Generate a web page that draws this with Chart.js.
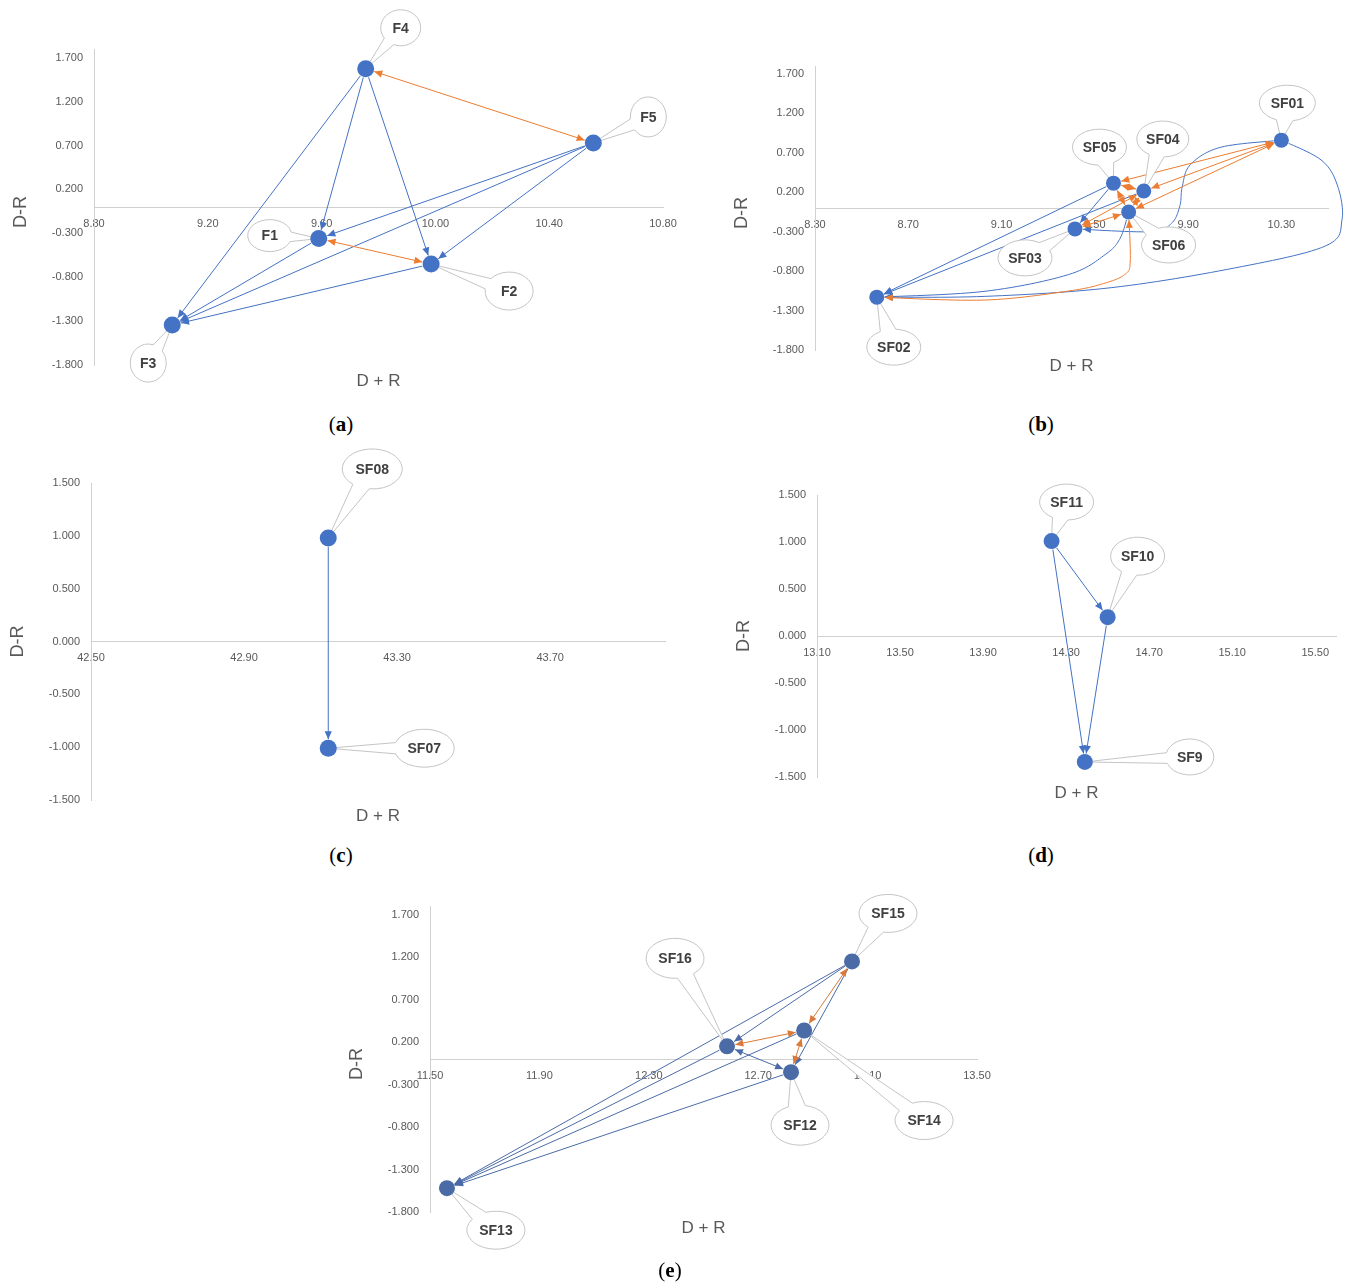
<!DOCTYPE html>
<html>
<head>
<meta charset="utf-8">
<script src="https://cdn.jsdelivr.net/npm/chart.js@4.4.0/dist/chart.umd.min.js"></script>
<style>
body { margin: 0; background: #fff; width: 1349px; height: 1284px; position: relative; overflow: hidden; }
canvas { position: absolute; }
.cap { position: absolute; font-family: 'Liberation Serif', 'DejaVu Serif', serif; font-size: 21px; color: #000; transform: translate(-50%, -50%); white-space: nowrap; }
</style>
</head>
<body>
<canvas id="chartA"></canvas>
<canvas id="chartB"></canvas>
<canvas id="chartC"></canvas>
<canvas id="chartD"></canvas>
<canvas id="chartE"></canvas>
<div class="cap" style="left:341px;top:424px">(<b>a</b>)</div>
<div class="cap" style="left:1041px;top:424px">(<b>b</b>)</div>
<div class="cap" style="left:341px;top:855px">(<b>c</b>)</div>
<div class="cap" style="left:1041px;top:855px">(<b>d</b>)</div>
<div class="cap" style="left:670px;top:1270px">(<b>e</b>)</div>
<script>
// (a) main factors
const aNames = ['F1', 'F2', 'F3', 'F4', 'F5'];
const aDplusR = [9.59, 9.985, 9.075, 9.755, 10.555];
const aDminusR = [-0.36, -0.65, -1.345, 1.575, 0.73];
const aXTicks = [8.8, 9.2, 9.6, 10.0, 10.4, 10.8];
const aYTicks = [-1.8, -1.3, -0.8, -0.3, 0.2, 0.7, 1.2, 1.7];
const aOneWay = [['F4', 'F3'], ['F4', 'F1'], ['F4', 'F2'], ['F5', 'F1'], ['F5', 'F3'], ['F5', 'F2'], ['F1', 'F3'], ['F2', 'F3']];
const aTwoWay = [['F4', 'F5'], ['F1', 'F2']];

// (b)
const bNames = ['SF01', 'SF02', 'SF03', 'SF04', 'SF05', 'SF06'];
const bDplusR = [10.30, 8.565, 9.415, 9.71, 9.58, 9.645];
const bDminusR = [0.86, -1.13, -0.265, 0.215, 0.315, -0.05];
const bXTicks = [8.3, 8.7, 9.1, 9.5, 9.9, 10.3];
const bYTicks = [-1.8, -1.3, -0.8, -0.3, 0.2, 0.7, 1.2, 1.7];
const bOneWay = [['SF05', 'SF02'], ['SF04', 'SF02'], ['SF05', 'SF03'], ['SF06', 'SF02'], ['SF01', 'SF03'], ['SF01', 'SF02']];
const bTwoWay = [['SF01', 'SF05'], ['SF01', 'SF04'], ['SF01', 'SF06'], ['SF05', 'SF04'], ['SF05', 'SF06'], ['SF06', 'SF04'], ['SF03', 'SF04'], ['SF03', 'SF06'], ['SF06', 'SF02']];

// (c)
const cNames = ['SF07', 'SF08'];
const cDplusR = [43.12, 43.12];
const cDminusR = [-1.01, 0.98];
const cXTicks = [42.5, 42.9, 43.3, 43.7];
const cYTicks = [-1.5, -1.0, -0.5, 0.0, 0.5, 1.0, 1.5];
const cOneWay = [['SF08', 'SF07']];

// (d)
const dNames = ['SF9', 'SF10', 'SF11'];
const dDplusR = [14.39, 14.50, 14.23];
const dDminusR = [-1.34, 0.20, 1.01];
const dXTicks = [13.1, 13.5, 13.9, 14.3, 14.7, 15.1, 15.5];
const dYTicks = [-1.5, -1.0, -0.5, 0.0, 0.5, 1.0, 1.5];
const dOneWay = [['SF11', 'SF10'], ['SF11', 'SF9'], ['SF10', 'SF9']];

// (e)
const eNames = ['SF12', 'SF13', 'SF14', 'SF15', 'SF16'];
const eDplusR = [12.82, 11.562, 12.868, 13.043, 12.586];
const eDminusR = [-0.155, -1.52, 0.335, 1.148, 0.149];
const eXTicks = [11.5, 11.9, 12.3, 12.7, 13.1, 13.5];
const eYTicks = [-1.8, -1.3, -0.8, -0.3, 0.2, 0.7, 1.2, 1.7];
const eOneWay = [['SF15', 'SF13'], ['SF15', 'SF16'], ['SF15', 'SF12'], ['SF14', 'SF13'], ['SF16', 'SF13'], ['SF12', 'SF13']];
const eTwoWayBlue = [['SF16', 'SF12']];
const eTwoWay = [['SF15', 'SF14'], ['SF16', 'SF14'], ['SF14', 'SF12']];

// curved connector bends for (b), in axis units
const bBends = {
    'SF06-SF02': [[9.609, -0.381], [9.545, -0.589], [9.386, -0.845], [9.025, -1.057]],
    'SF01-SF03': [[10.04, 0.77], [9.91, 0.55], [9.875, 0.27], [9.865, 0.03], [9.83, -0.19], [9.74, -0.30]],
    'SF01-SF02': [[10.47, 0.61], [10.54, 0.29], [10.56, -0.15], [10.49, -0.48], [10.10, -0.76], [9.57, -1.01], [9.03, -1.12]],
    'SF06=SF02': [[9.652, -0.672], [9.631, -0.837], [9.545, -0.951], [9.386, -1.053], [9.025, -1.167]]
};

const BLUE = '#4472C4';
const ORANGE = '#ED7D31';
const Y_AXIS_W = 60;
const TICK_FONT = { family: "'Liberation Sans', Arial, sans-serif", size: 11 };

function spline(pts, seg) {
    if (pts.length < 3) return pts;
    const out = [];
    for (let i = 0; i < pts.length - 1; i++) {
        const p0 = pts[Math.max(i - 1, 0)], p1 = pts[i], p2 = pts[i + 1], p3 = pts[Math.min(i + 2, pts.length - 1)];
        for (let t = 0; t < seg; t++) {
            const s = t / seg, s2 = s * s, s3 = s2 * s;
            const f = k => 0.5 * (2 * p1[k] + (-p0[k] + p2[k]) * s + (2 * p0[k] - 5 * p1[k] + 4 * p2[k] - p3[k]) * s2 + (-p0[k] + 3 * p1[k] - 3 * p2[k] + p3[k]) * s3);
            out.push([f(0), f(1)]);
        }
    }
    out.push(pts[pts.length - 1]);
    return out;
}

function cutStart(arr, r) {
    const a = arr[0];
    for (let i = 1; i < arr.length; i++) {
        const d = Math.hypot(arr[i][0] - a[0], arr[i][1] - a[1]);
        if (d >= r) {
            const b = arr[i - 1];
            const db = Math.hypot(b[0] - a[0], b[1] - a[1]);
            const t = (r - db) / (d - db);
            return [[b[0] + (arr[i][0] - b[0]) * t, b[1] + (arr[i][1] - b[1]) * t]].concat(arr.slice(i));
        }
    }
    return arr;
}

function arrowHead(ctx, pts, color) {
    const tip = pts[pts.length - 1];
    let k = pts.length - 2;
    while (k > 0 && Math.hypot(pts[k][0] - tip[0], pts[k][1] - tip[1]) < 6) k--;
    const ang = Math.atan2(tip[1] - pts[k][1], tip[0] - pts[k][0]);
    const L = 8, W = 3.6;
    const c = Math.cos(ang), s = Math.sin(ang);
    ctx.beginPath();
    ctx.moveTo(tip[0], tip[1]);
    ctx.lineTo(tip[0] - L * c + W * s, tip[1] - L * s - W * c);
    ctx.lineTo(tip[0] - L * c - W * s, tip[1] - L * s + W * c);
    ctx.closePath();
    ctx.fillStyle = color;
    ctx.fill();
}

function callout(ctx, px, py, cx, cy, rx, ry, text) {
    const th = Math.atan2((py - cy) / ry, (px - cx) / rx);
    const d = 0.3;
    ctx.beginPath();
    ctx.moveTo(px, py);
    ctx.lineTo(cx + rx * Math.cos(th + d), cy + ry * Math.sin(th + d));
    ctx.ellipse(cx, cy, rx, ry, 0, th + d, th - d + 2 * Math.PI);
    ctx.closePath();
    ctx.fillStyle = '#ffffff';
    ctx.fill();
    ctx.strokeStyle = '#c4c4c4';
    ctx.lineWidth = 1;
    ctx.stroke();
    ctx.fillStyle = '#404040';
    ctx.font = "bold 14px 'Liberation Sans', Arial, sans-serif";
    ctx.textAlign = 'center';
    ctx.textBaseline = 'middle';
    ctx.fillText(text, cx, cy + 1);
}

function makeOverlay(p) {
    return {
        id: 'overlay' + p.id,
        beforeDatasetsDraw(chart) {
            const ctx = chart.ctx, xs = chart.scales.x, ys = chart.scales.y;
            const at = n => {
                const i = p.names.indexOf(n);
                return [xs.getPixelForValue(p.xv[i]), ys.getPixelForValue(p.yv[i])];
            };
            const toPx = v => [xs.getPixelForValue(v[0]), ys.getPixelForValue(v[1])];
            ctx.save();
            const link = (a, b, color, both, bendKey) => {
                let pts = [at(a)].concat((p.bends && p.bends[bendKey]) ? p.bends[bendKey].map(toPx) : []).concat([at(b)]);
                pts = spline(pts, 14);
                pts = cutStart(pts, p.r + 0.5);
                pts = cutStart(pts.slice().reverse(), p.r + 0.5).reverse();
                ctx.beginPath();
                ctx.moveTo(pts[0][0], pts[0][1]);
                for (let i = 1; i < pts.length; i++) ctx.lineTo(pts[i][0], pts[i][1]);
                ctx.strokeStyle = color;
                ctx.lineWidth = 1;
                ctx.stroke();
                arrowHead(ctx, pts, color);
                if (both) arrowHead(ctx, pts.slice().reverse(), color);
            };
            (p.oneWay || []).forEach(l => link(l[0], l[1], p.blue, false, l[0] + '-' + l[1]));
            (p.twoWayBlue || []).forEach(l => link(l[0], l[1], p.blue, true, l[0] + '=' + l[1]));
            (p.twoWay || []).forEach(l => link(l[0], l[1], p.orange, true, l[0] + '=' + l[1]));
            p.names.forEach((n, i) => {
                const c = p.labels[i];
                const q = at(n);
                callout(ctx, q[0], q[1], q[0] + c[0], q[1] + c[1], c[2], c[3], n);
            });
            ctx.restore();
        },
        afterDraw(chart) {
            const ctx = chart.ctx, ca = chart.chartArea;
            ctx.save();
            ctx.fillStyle = '#595959';
            ctx.textAlign = 'center';
            ctx.textBaseline = 'middle';
            ctx.font = "17px 'Liberation Sans', Arial, sans-serif";
            ctx.fillText('D + R', (ca.left + ca.right) / 2, ca.bottom + 16);
            ctx.translate(ca.left - 73, (ca.top + ca.bottom) / 2 + p.titleDy);
            ctx.rotate(-Math.PI / 2);
            ctx.font = "18px 'Liberation Sans', Arial, sans-serif";
            ctx.fillText('D-R', 0, 0);
            ctx.restore();
        }
    };
}

const panels = [
    { id: 'A', canvas: 'chartA', box: [0, 0, 690, 405], area: [94, 49, 663, 365], xMin: 8.8, xMax: 10.8, yMin: -1.8, yMax: 1.8,
      names: aNames, xv: aDplusR, yv: aDminusR, xTicks: aXTicks, yTicks: aYTicks, oneWay: aOneWay, twoWay: aTwoWay,
      r: 8.5, blue: BLUE, orange: ORANGE, titleDy: 5,
      labels: [[-49, -3, 22, 16], [78, 27, 24, 19], [-24, 38, 18, 19], [35, -41, 20, 18], [55, -26, 18, 20]] },
    { id: 'B', canvas: 'chartB', box: [690, 45, 659, 360], area: [815, 66, 1328, 350], xMin: 8.3, xMax: 10.5, yMin: -1.8, yMax: 1.8,
      names: bNames, xv: bDplusR, yv: bDminusR, xTicks: bXTicks, yTicks: bYTicks, oneWay: bOneWay, twoWay: bTwoWay, bends: bBends,
      r: 7.5, blue: BLUE, orange: ORANGE, titleDy: 5,
      labels: [[6, -37, 28, 18], [17, 50, 27, 18], [-50, 29, 27, 18], [19, -52, 26, 18], [-14, -36, 27, 18], [40, 33, 27, 18]] },
    { id: 'C', canvas: 'chartC', box: [0, 440, 690, 400], area: [91, 483, 665, 800], xMin: 42.5, xMax: 44.0, yMin: -1.5, yMax: 1.5,
      names: cNames, xv: cDplusR, yv: cDminusR, xTicks: cXTicks, yTicks: cYTicks, oneWay: cOneWay,
      r: 8.5, blue: BLUE, orange: ORANGE, titleDy: 0,
      labels: [[96, 0, 30, 19], [44, -69, 30, 20]] },
    { id: 'D', canvas: 'chartD', box: [690, 465, 659, 360], area: [817, 495, 1336, 777], xMin: 13.1, xMax: 15.6, yMin: -1.5, yMax: 1.5,
      names: dNames, xv: dDplusR, yv: dDminusR, xTicks: dXTicks, yTicks: dYTicks, oneWay: dOneWay,
      r: 8, blue: BLUE, orange: ORANGE, titleDy: 0,
      labels: [[105, -5, 24, 18], [30, -61, 27, 19], [15, -39, 27, 18]] },
    { id: 'E', canvas: 'chartE', box: [330, 870, 690, 390], area: [430, 906, 977, 1212], xMin: 11.5, xMax: 13.5, yMin: -1.8, yMax: 1.8,
      names: eNames, xv: eDplusR, yv: eDminusR, xTicks: eXTicks, yTicks: eYTicks, oneWay: eOneWay, twoWay: eTwoWay, twoWayBlue: eTwoWayBlue,
      r: 8, blue: '#4A6BA6', orange: '#D9793A', titleDy: 5,
      labels: [[9, 53, 29, 20], [49, 42, 29, 19], [120, 90, 29, 19], [36, -48, 29, 19], [-52, -88, 29, 20]] }
];

panels.forEach(p => {
    const el = document.getElementById(p.canvas);
    const [bx, by, bw, bh] = p.box;
    el.width = bw;
    el.height = bh;
    el.style.left = bx + 'px';
    el.style.top = by + 'px';
    el.style.width = bw + 'px';
    el.style.height = bh + 'px';
    const [al, at, ar, ab] = p.area;

    new Chart(el.getContext('2d'), {
        type: 'scatter',
        data: {
            datasets: [{
                data: p.xv.map((x, i) => ({ x: x, y: p.yv[i] })),
                pointRadius: p.r,
                pointHoverRadius: p.r,
                pointBackgroundColor: p.blue,
                pointBorderColor: p.blue,
                pointBorderWidth: 0
            }]
        },
        options: {
            responsive: false,
            animation: false,
            devicePixelRatio: 1,
            layout: {
                padding: { left: al - bx - Y_AXIS_W, top: at - by, right: bx + bw - ar, bottom: by + bh - ab }
            },
            plugins: { legend: { display: false }, tooltip: { enabled: false }, title: { display: false } },
            scales: {
                x: {
                    type: 'linear',
                    min: p.xMin,
                    max: p.xMax,
                    position: { y: 0 },
                    afterBuildTicks: s => { s.ticks = p.xTicks.map(v => ({ value: v })); },
                    grid: { display: false, drawTicks: false },
                    border: { color: '#d0d0d0', width: 1 },
                    ticks: {
                        autoSkip: false, maxRotation: 0, padding: 10, color: '#595959', font: TICK_FONT,
                        callback: v => Number(v).toFixed(2)
                    }
                },
                y: {
                    type: 'linear',
                    min: p.yMin,
                    max: p.yMax,
                    afterFit: s => { s.width = Y_AXIS_W; },
                    afterBuildTicks: s => { s.ticks = p.yTicks.map(v => ({ value: v })); },
                    grid: { display: false, drawTicks: false },
                    border: { color: '#d0d0d0', width: 1 },
                    ticks: {
                        autoSkip: false, padding: 11, color: '#595959', font: TICK_FONT,
                        callback: v => Number(v).toFixed(3)
                    }
                }
            }
        },
        plugins: [makeOverlay(p)]
    });
});
</script>
</body>
</html>
